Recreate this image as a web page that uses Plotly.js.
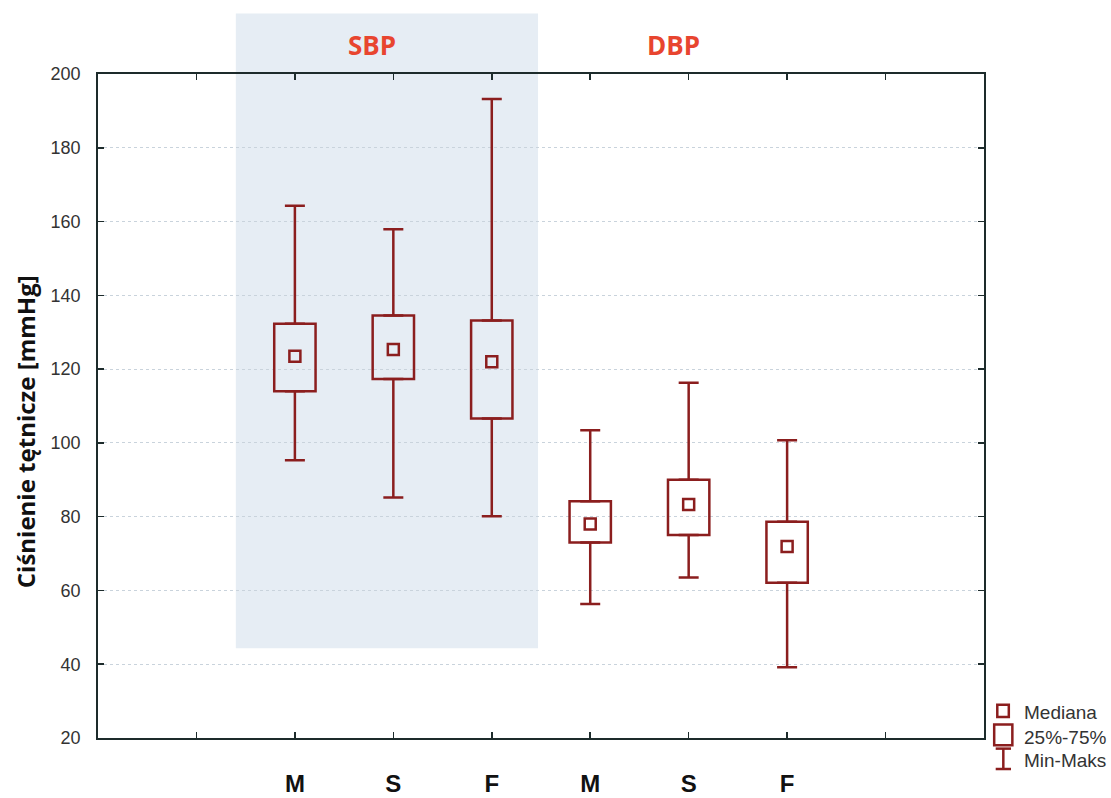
<!DOCTYPE html>
<html>
<head>
<meta charset="utf-8">
<script src="https://cdn.plot.ly/plotly-3.0.1.min.js"></script>
<style>html,body{margin:0;padding:0;background:#fff;}#chart{width:1111px;height:798px;}</style>
</head>
<body>
<div id="chart"></div>
<script>
// Data (mmHg)
const groups = ['SBP', 'SBP', 'SBP', 'DBP', 'DBP', 'DBP'];
const tickLabels = ['M', 'S', 'F', 'M', 'S', 'F'];
const positions = [2, 3, 4, 5, 6, 7];
const minVals    = [95.3, 85.2, 80.1, 56.3, 63.5, 39.2];
const q1Vals     = [114.0, 117.3, 106.6, 73.0, 75.0, 62.1];
const medianVals = [123.5, 125.3, 122.0, 78.0, 83.3, 71.9];
const q3Vals     = [132.3, 134.5, 133.2, 84.2, 90.0, 78.6];
const maxVals    = [164.3, 157.9, 193.2, 103.4, 116.3, 100.7];

const RED = '#8B1E1E';

const boxTrace = {
  type: 'bar', x: positions, base: q1Vals,
  y: q3Vals.map((v, i) => v - q1Vals[i]),
  width: 0.42,
  marker: {color: 'rgba(0,0,0,0)', line: {color: RED, width: 2.5}},
  hoverinfo: 'skip', showlegend: false
};
const upperWhisker = {
  type: 'scatter', mode: 'markers', x: positions, y: q3Vals,
  marker: {size: 1, color: 'rgba(0,0,0,0)'},
  error_y: {type: 'data', symmetric: false,
    array: maxVals.map((v, i) => v - q3Vals[i]),
    arrayminus: q3Vals.map(() => 0),
    color: RED, thickness: 2.5, width: 10},
  hoverinfo: 'skip', showlegend: false
};
const lowerWhisker = {
  type: 'scatter', mode: 'markers', x: positions, y: q1Vals,
  marker: {size: 1, color: 'rgba(0,0,0,0)'},
  error_y: {type: 'data', symmetric: false,
    array: q1Vals.map(() => 0),
    arrayminus: q1Vals.map((v, i) => v - minVals[i]),
    color: RED, thickness: 2.5, width: 10},
  hoverinfo: 'skip', showlegend: false
};
const medianTrace = {
  type: 'scatter', mode: 'markers', x: positions, y: medianVals,
  marker: {symbol: 'square-open', size: 11, color: RED, line: {width: 2.5, color: RED}},
  showlegend: false
};

const ly = [0.039, 0.0015, -0.0336];
const shapes = [
  // shaded SBP panel
  {type: 'rect', xref: 'x', yref: 'paper', x0: 1.40, x1: 4.47, y0: 0.1352, y1: 1.091,
   fillcolor: '#E6EDF4', line: {width: 0}, layer: 'below'},
  // legend: median square
  {type: 'rect', xref: 'paper', yref: 'paper', x0: 1.0150, x1: 1.0280, y0: 0.0317, y1: 0.0500,
   line: {color: RED, width: 2.5}, fillcolor: 'rgba(0,0,0,0)'},
  // legend: box
  {type: 'rect', xref: 'paper', yref: 'paper', x0: 1.0115, x1: 1.0320, y0: -0.011, y1: 0.0202,
   line: {color: RED, width: 2.5}, fillcolor: 'rgba(0,0,0,0)'},
  // legend: whisker
  {type: 'line', xref: 'paper', yref: 'paper', x0: 1.0218, x1: 1.0218, y0: -0.0467, y1: -0.016,
   line: {color: RED, width: 2.5}},
  {type: 'line', xref: 'paper', yref: 'paper', x0: 1.0132, x1: 1.0305, y0: -0.016, y1: -0.016,
   line: {color: RED, width: 2.5}},
  {type: 'line', xref: 'paper', yref: 'paper', x0: 1.0132, x1: 1.0305, y0: -0.0467, y1: -0.0467,
   line: {color: RED, width: 2.5}}
];

const legendFont = {family: 'Liberation Sans, Arial, sans-serif', size: 19, color: '#333'};
const titleFont = {family: 'Open Sans, sans-serif', size: 26, color: '#E8452F', weight: 'bold'};
const annotations = [
  {text: 'SBP', x: 2.78, xref: 'x', y: 1.044, yref: 'paper', yanchor: 'middle', showarrow: false, font: titleFont},
  {text: 'DBP', x: 5.85, xref: 'x', y: 1.044, yref: 'paper', yanchor: 'middle', showarrow: false, font: titleFont},
  {text: 'Ciśnienie tętnicze [mmHg]', x: -0.0824, xref: 'paper', xanchor: 'center',
   y: 0.462, yref: 'paper', yanchor: 'middle', textangle: -90, showarrow: false,
   font: {family: 'Open Sans, sans-serif', size: 24, color: '#111', weight: 'bold'}},
  {text: 'Mediana', x: 1.0425, y: ly[0], xref: 'paper', yref: 'paper', xanchor: 'left', yanchor: 'middle', showarrow: false, font: legendFont},
  {text: '25%-75%', x: 1.0425, y: ly[1], xref: 'paper', yref: 'paper', xanchor: 'left', yanchor: 'middle', showarrow: false, font: legendFont},
  {text: 'Min-Maks', x: 1.0425, y: ly[2], xref: 'paper', yref: 'paper', xanchor: 'left', yanchor: 'middle', showarrow: false, font: legendFont}
];

const layout = {
  width: 1111, height: 798,
  margin: {l: 98, r: 127, t: 74, b: 60},
  paper_bgcolor: '#fff', plot_bgcolor: 'rgba(0,0,0,0)',
  showlegend: false,
  xaxis: {
    range: [0, 9], tickvals: [1].concat(positions, [8]),
    ticktext: [''].concat(tickLabels, ['']),
    ticks: 'inside', ticklen: 6, tickwidth: 1.5, tickcolor: '#1d2b2b',
    showline: true, mirror: 'ticks', linecolor: '#1d2b2b', linewidth: 1.8,
    showgrid: false, zeroline: false, ticklabelstandoff: 23,
    tickfont: {family: 'Liberation Sans, Arial, sans-serif', size: 24, color: '#111', weight: 'bold'}
  },
  yaxis: {
    range: [20, 200], dtick: 20, tick0: 20,
    ticks: 'inside', ticklen: 6, tickwidth: 1.5, tickcolor: '#1d2b2b',
    showline: true, mirror: 'ticks', linecolor: '#1d2b2b', linewidth: 1.8,
    showgrid: true, gridcolor: '#C9D3DC', griddash: 'dot', gridwidth: 1.2,
    zeroline: false, ticklabelstandoff: 12,
    tickfont: {family: 'Liberation Sans, Arial, sans-serif', size: 18, color: '#333'}
  },
  shapes: shapes,
  annotations: annotations
};

Plotly.newPlot('chart', [boxTrace, upperWhisker, lowerWhisker, medianTrace], layout, {displayModeBar: false, staticPlot: true});
</script>
</body>
</html>
